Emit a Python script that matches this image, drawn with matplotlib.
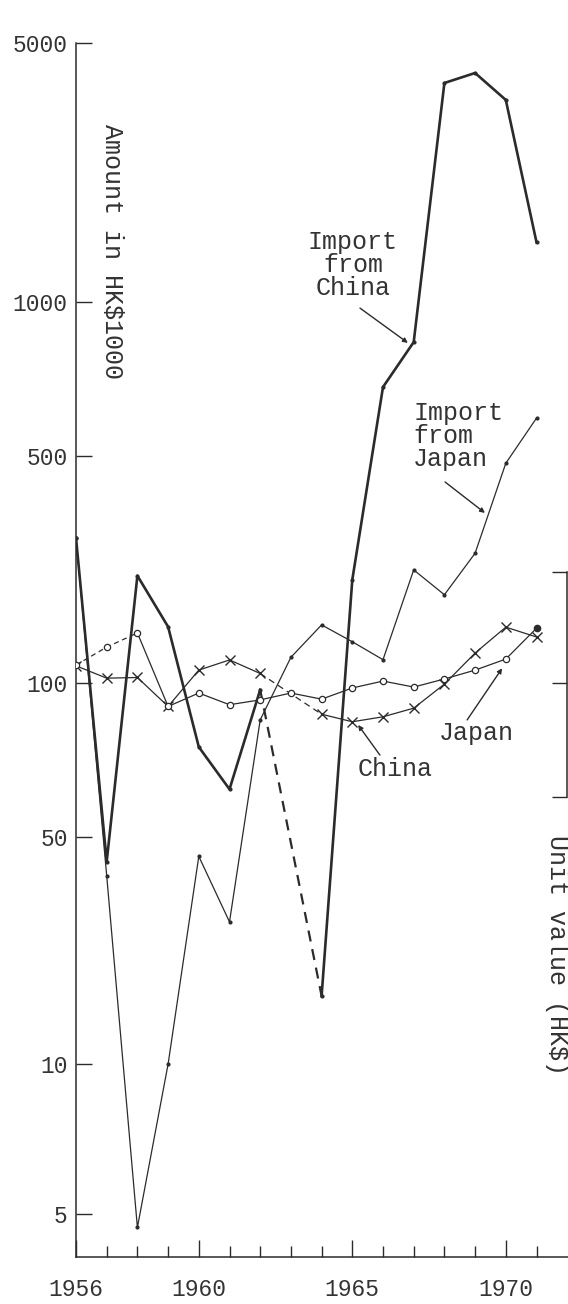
"""Imports from China and Japan, 1956-1971: amount and unit value (hand-ruled log paper)."""
import numpy as np
import matplotlib
matplotlib.use("Agg")
import matplotlib.pyplot as plt
from matplotlib.ticker import FixedLocator, FuncFormatter, NullFormatter

plt.rcParams["font.family"] = ["Liberation Mono", "DejaVu Sans Mono"]

INK = "#2b2b2b"
TXT = "#333333"

YEARS = list(range(1956, 1972))
# amount in HK$1000
CHINA_IMPORT = [280, 42, 214, 149, 75, 62, 97, np.nan, 16.2, 208, 682, 835, 3900, 4150, 3510, 1450]
JAPAN_IMPORT = [280, 38, 4.7, 10, 43.6, 27.4, 84.7, 120, 151, 134, 118, 223, 187, 251, 475, 593]
# unit value (read against the same ruling)
CHINA_UNIT = [113, 103.5, 104, 90, 109.6, 117.8, 107, np.nan, 86.9, 84, 85.9, 89.3, 99.5, 123.7, 148.6, 138.6]
JAPAN_UNIT = [113.6, 129, 142.6, 90, 95.6, 90.7, 92.7, 95.6, 93, 97.8, 101.4, 98.2, 102.9, 109.6, 118.5, 147.5]
JAPAN_UNIT_ESTIMATED_TO = 1958   # dashed part at the start

Y_LABELS = [5, 10, 50, 100, 500, 1000, 5000]
# the paper's log ruling is hand drawn: spacing (px) of each labelled line above the "5" line
Y_SPACING = [0, 150, 377, 531, 758, 912, 1171]
UNIT_BRACKET = [60, 100, 220]


def _paper_functions():
    logs = list(np.log10(Y_LABELS))
    h = list(map(float, Y_SPACING))
    lo = h[0] - (h[1] - h[0]) / (logs[1] - logs[0]) * (logs[0] + 3)
    hi = h[-1] + (h[-1] - h[-2]) / (logs[-1] - logs[-2]) * (7 - logs[-1])
    L = np.array([-3.0] + logs + [7.0])
    H = np.array([lo] + h + [hi])

    def forward(v):
        v = np.asarray(v, float)
        return np.interp(np.log10(np.clip(v, 1e-3, None)), L, H)

    def inverse(p):
        return 10 ** np.interp(np.asarray(p, float), H, L)

    return forward, inverse


def _bridge(ax, years, vals, **kw):
    # dashed link across a missing year
    for i, v in enumerate(vals):
        if np.isnan(v) and 0 < i < len(vals) - 1:
            ax.plot([years[i - 1], years[i + 1]], [vals[i - 1], vals[i + 1]],
                    linestyle=(0, (5, 3.5)), **kw)


fig = plt.figure(figsize=(5.68, 13.04), dpi=100)
ax = fig.add_axes([76 / 568, 47 / 1304, 1 - 76 / 568, 1214 / 1304])
fwd, inv = _paper_functions()
ax.set_yscale("function", functions=(fwd, inv))
ax.set_xlim(1956, 1956 + 492 / 30.7)
ax.set_ylim(4.1, 5000)

# amounts
ax.plot(YEARS, CHINA_IMPORT, color=INK, lw=1.9, marker="o", ms=2, zorder=3)
_bridge(ax, YEARS, CHINA_IMPORT, color=INK, lw=1.6, zorder=3)
ax.plot(YEARS, JAPAN_IMPORT, color=INK, lw=0.9, marker="o", ms=2, zorder=3)

# unit values
ax.plot(YEARS, CHINA_UNIT, color=INK, lw=0.9, marker="x", ms=7, mew=1.0, zorder=4)
_bridge(ax, YEARS, CHINA_UNIT, color=INK, lw=0.9, zorder=4)
k = YEARS.index(JAPAN_UNIT_ESTIMATED_TO)
ax.plot(YEARS[:k + 1], JAPAN_UNIT[:k + 1], color=INK, lw=0.9, ls=(0, (4, 3)), zorder=4)
ax.plot(YEARS[k:], JAPAN_UNIT[k:], color=INK, lw=0.9, zorder=4)
ax.plot(YEARS[:-1], JAPAN_UNIT[:-1], ls="none", marker="o", ms=4.5, mfc="white",
        mec=INK, mew=0.9, zorder=5)
ax.plot(YEARS[-1:], JAPAN_UNIT[-1:], ls="none", marker="o", ms=4.5, color=INK, zorder=5)

# axes
for s in ("top", "right"):
    ax.spines[s].set_visible(False)
for s in ("left", "bottom"):
    ax.spines[s].set_linewidth(1.1)
    ax.spines[s].set_color(INK)

ax.yaxis.set_major_locator(FixedLocator(Y_LABELS))
ax.yaxis.set_major_formatter(FuncFormatter(lambda v, _: f"{v:g}"))
ax.yaxis.set_minor_locator(FixedLocator([]))
ax.tick_params(axis="y", direction="in", length=11.5, width=1.0, color=INK,
               labelsize=16.5, labelcolor=TXT, pad=6)

ax.xaxis.set_major_locator(FixedLocator([1956, 1960, 1965, 1970]))
ax.xaxis.set_minor_locator(FixedLocator([y for y in YEARS[1:] if y % 5]))
ax.xaxis.set_minor_formatter(NullFormatter())
ax.tick_params(axis="x", which="major", direction="in", length=12, width=1.0,
               color=INK, labelsize=16.5, labelcolor=TXT, pad=15)
ax.tick_params(axis="x", which="minor", direction="in", length=8, width=1.0, color=INK)

# unit value bracket on the right
ax2 = ax.twinx()
ax2.set_yscale("function", functions=(fwd, inv))
ax2.set_ylim(ax.get_ylim())
for s in ("top", "left", "bottom"):
    ax2.spines[s].set_visible(False)
ax2.spines["right"].set_bounds(UNIT_BRACKET[0], UNIT_BRACKET[-1])
ax2.spines["right"].set_position(("axes", 0.997))
ax2.spines["right"].set_linewidth(1.1)
ax2.spines["right"].set_color(INK)
ax2.yaxis.set_major_locator(FixedLocator(UNIT_BRACKET))
ax2.yaxis.set_minor_locator(FixedLocator([]))
ax2.tick_params(axis="y", direction="in", length=11, width=1.0, color=INK, labelright=False)

# labels
ax.text(1957.17, 1365, "Amount in HK$1000", rotation=-90, ha="center", va="center",
        fontsize=18, color=TXT)
ax.text(1971.67, 21.7, "Unit value (HK$)", rotation=-90, ha="center", va="center",
        fontsize=18, color=TXT, clip_on=False)
ax.text(1965.02, 1259, "Import\nfrom\nChina", ha="center", va="center",
        multialignment="center", fontsize=18, color=TXT, linespacing=0.95)
ax.text(1966.98, 547, "Import\nfrom\nJapan", ha="left", va="center",
        fontsize=18, color=TXT, linespacing=0.95)
ax.text(1966.39, 67.9, "China", ha="center", va="center", fontsize=18, color=TXT)
ax.text(1969.03, 79.8, "Japan", ha="center", va="center", fontsize=18, color=TXT)

pointer = dict(arrowstyle="-|>", mutation_scale=7, lw=1.0, color=INK, shrinkA=0, shrinkB=0)
ax.annotate("", xy=(1966.81, 832), xytext=(1965.25, 973), arrowprops=pointer)
ax.annotate("", xy=(1969.32, 334), xytext=(1968.02, 416), arrowprops=pointer)
ax.annotate("", xy=(1965.19, 82.8), xytext=(1965.90, 72.3), arrowprops=pointer)
ax.annotate("", xy=(1969.88, 111), xytext=(1968.74, 84.7), arrowprops=pointer)

fig.savefig("out.png", dpi=100, facecolor="white")
